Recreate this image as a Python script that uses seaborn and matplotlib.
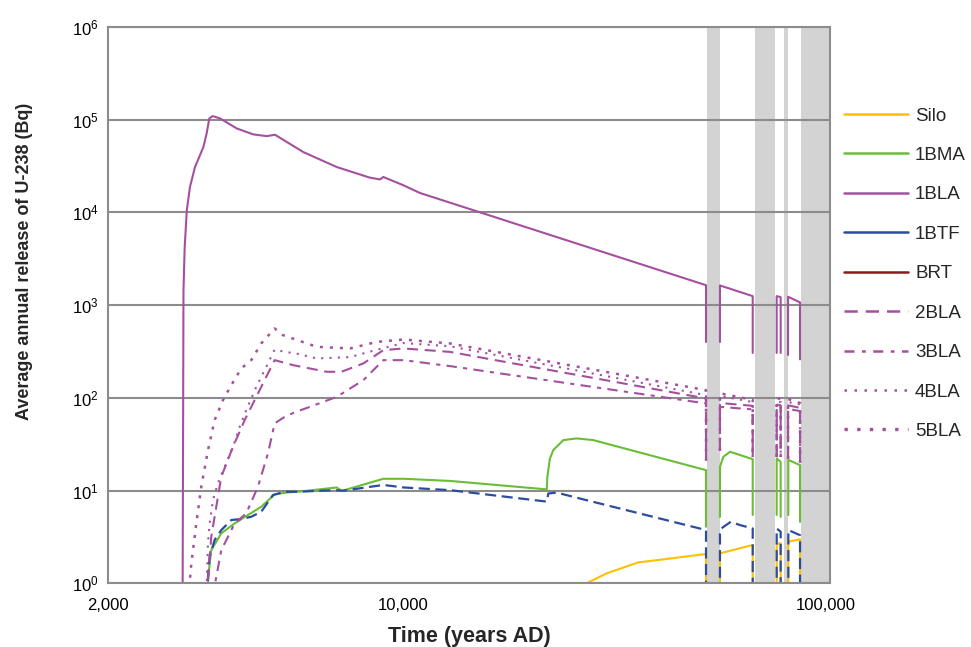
import numpy as np
import pandas as pd
import matplotlib
matplotlib.use('Agg')
import matplotlib.pyplot as plt
from matplotlib.lines import Line2D
from matplotlib.ticker import FixedLocator, FixedFormatter, LogLocator, NullFormatter
import seaborn as sns

nan = np.nan

# time (years AD) and annual release (Bq); nan splits a series into pieces
silo_years = [26000, 30270, 35950, 41200, 52000, 52000, nan,
              56100, 56100, 67070, 67070, nan,
              76420, 76420, 78100, 78100, nan,
              81430, 81430, 86800, 86800]
silo_release = [0.91, 1.28, 1.68, 1.81, 2.07, 0.5, nan,
                0.5, 2.1, 2.59, 0.5, nan,
                0.5, 2.65, 2.7, 0.5, nan,
                0.5, 2.81, 2.98, 0.5]

bma_years = [3420, 3477, 3508, 3705, 3986, 4285, 4606, 4955, 5328, 5627, 6950, 7141,
             8958, 10000, 12885, 21830, 21900, 22200, 22620, 23890, 25700, 28130,
             52000, 52000, nan,
             56100, 56100, 57130, 59270, 67070, 67070, nan,
             76420, 76420, 78100, 78100, nan,
             81430, 81430, 86800, 86800]
bma_release = [0.7, 1.64, 2.28, 3.46, 4.43, 5.45, 6.69, 9.1, 9.56, 9.71, 10.8, 9.9,
               13.4, 13.4, 12.7, 10.3, 14.0, 22.0, 27.3, 35.0, 36.5, 35.0,
               16.6, 4.07, nan,
               5.2, 18.0, 23.1, 26.2, 21.8, 5.45, nan,
               5.45, 22.2, 20.4, 5.2, nan,
               5.45, 21.4, 18.8, 4.6]

bla1_years = [3000, 3015, 3035, 3070, 3123, 3210, 3360, 3421, 3471, 3535, 3679, 4029,
              4410, 4745, 4965, 5790, 6950, 8330, 8800, 8960, 10000, 10940,
              52000, 52000, nan,
              56100, 56100, 67070, 67070, nan,
              76420, 76420, 78100, 78100, nan,
              81310, 81310, 86800, 86800]
bla1_release = [0.5, 1450, 4240, 10540, 18780, 30850, 50660, 71200, 103300, 109400, 103300, 80500,
                69400, 66500, 68800, 44800, 30850, 23700, 22700, 24100, 19600, 16200,
                1640, 400, nan,
                400, 1630, 1250, 305, nan,
                305, 1250, 1220, 305, nan,
                290, 1230, 1070, 260]

btf_years = [3414, 3477, 3573, 3705, 3912, 4131, 4363, 4606, 4910, 5233, 5627, 6850, 7200,
             8958, 10000, 12885, 21830, 22020, 23050, 26170, 52000, 52000, nan,
             56100, 56100, 56500, 59500, 62500, 67070, 67070, nan,
             76420, 76420, 78100, 78100, nan,
             81430, 81430, 86800, 86800]
btf_release = [0.7, 1.93, 2.93, 3.75, 4.81, 4.93, 5.22, 5.91, 8.94, 9.71, 9.71, 10.1, 9.96,
               11.5, 10.8, 10.1, 7.6, 9.3, 9.5, 8.2, 3.75, 0.5, nan,
               0.5, 3.45, 3.9, 4.6, 4.25, 3.9, 0.5, nan,
               0.5, 3.9, 3.6, 0.5, nan,
               0.5, 3.75, 3.3, 0.5]

brt_years = []
brt_release = []

bla2_years = [3420, 3508, 3705, 3948, 4208, 4524, 4955, 5486, 6579, 7130, 8034, 8958,
              10000, 12885, 52000, 52000, nan,
              56100, 56100, 67070, 67070, nan,
              76420, 76420, 78100, 78100, nan,
              81310, 81310, 86800, 86800]
bla2_release = [0.7, 3.18, 14.1, 29.6, 57.5, 111.5, 255, 225, 191, 191, 235, 327,
                341, 313, 98.5, 21, nan,
                27, 88, 82, 23, nan,
                23, 85, 83, 23, nan,
                22, 83, 78, 20]

bla3_years = [3530, 3705, 3986, 4245, 4524, 4778, 4955, 5233, 5566, 6008, 6950, 8034,
              8958, 10000, 12885, 52000, 52000, nan,
              56100, 56100, 67070, 67070, nan,
              76420, 76420, 78100, 78100, nan,
              81310, 81310, 86800, 86800]
bla3_release = [0.7, 2.28, 4.43, 5.68, 11.0, 25.2, 53.0, 62.4, 70.7, 80, 102.5, 155,
                255, 255, 220, 87, 21, nan,
                27, 80, 75, 23, nan,
                23, 78, 76, 23, nan,
                22, 76, 72, 20]

bla4_years = [3414, 3446, 3477, 3541, 3638, 3774, 3948, 4096, 4245, 4483, 4734, 4955,
              5233, 5566, 6233, 7471, 8642, 10000, 12885, 52000, 52000, nan,
              56100, 56100, 67070, 67070, nan,
              76420, 76420, 78100, 78100, nan,
              81310, 81310, 86800, 86800]
bla4_release = [0.7, 2.72, 4.43, 7.9, 12.05, 18.05, 29.6, 48.7, 73.7, 131.4, 215.8, 332,
                313, 301, 266, 275, 330, 390, 360, 107, 21, nan,
                27, 105, 90, 23, nan,
                23, 92, 90, 23, nan,
                22, 90, 85, 20]

bla5_years = [3095, 3147, 3233, 3322, 3446, 3573, 3739, 3912, 4131, 4363, 4606, 4955,
              5185, 6233, 7471, 8642, 10000, 12885, 52000, 52000, nan,
              56100, 56100, 67070, 67070, nan,
              76420, 76420, 78100, 78100, nan,
              81310, 81310, 86800, 86800]
bla5_release = [0.7, 1.64, 4.43, 11.0, 27.3, 57.5, 94.5, 137, 207.5, 255, 386, 560,
                474, 355, 341, 401, 426, 386, 121, 21, nan,
                27, 112, 95, 23, nan,
                23, 100, 97, 23, nan,
                22, 97, 88, 20]

# shaded periods (years AD)
shade_start = [52400, 67900, 79500, 87300]
shade_end = [56100, 75700, 81200, 102200]

x_major = [2000, 10000, 100000]
x_labels = ['2,000', '10,000', '100,000']

purple = '#a5509f'
grey = '#8c8c8c'

sns.set_theme(style='white')
plt.rcParams['font.family'] = ['Liberation Sans', 'DejaVu Sans']
plt.rcParams['mathtext.default'] = 'regular'


def pieces(years, release):
    df = pd.DataFrame({'year': years, 'release': release})
    df['piece'] = df['release'].isna().cumsum()
    return df.dropna()


fig = plt.figure(figsize=(9.71, 6.47), dpi=100)
ax = fig.add_axes([0.1114, 0.0985, 0.7434, 0.8598])
ax.set_xscale('log')
ax.set_yscale('log')

for s, e in zip(shade_start, shade_end):
    ax.axvspan(s, e, color='#d3d3d3', lw=0, zorder=0.2)

series = [
    ('Silo', silo_years, silo_release, '#ffc000', '-', 1.5),
    ('1BMA', bma_years, bma_release, '#6abd34', '-', 1.5),
    ('1BLA', bla1_years, bla1_release, purple, '-', 1.5),
    ('1BTF', btf_years, btf_release, '#2b4c9f', (0, (5, 2.5)), 1.6),
    ('2BLA', bla2_years, bla2_release, purple, (0, (5.3, 3.2)), 1.5),
    ('3BLA', bla3_years, bla3_release, purple, (0, (5, 3, 2, 3)), 1.5),
    ('4BLA', bla4_years, bla4_release, purple, (0, (1, 3)), 1.5),
    ('5BLA', bla5_years, bla5_release, purple, (0, (1.2, 2.8)), 1.8),
]
for name, years, release, color, ls, lw in series:
    sns.lineplot(data=pieces(years, release), x='year', y='release', units='piece',
                 estimator=None, sort=False, color=color, linestyle=ls, lw=lw,
                 ax=ax, legend=False)

ax.set_xlim(2000, 102200)
ax.set_ylim(1, 1e6)

ax.xaxis.set_major_locator(FixedLocator(x_major))
ax.xaxis.set_major_formatter(FixedFormatter(x_labels))
ax.xaxis.set_minor_locator(FixedLocator([m * d for d in (1000, 10000) for m in range(2, 10)]))
ax.xaxis.set_minor_formatter(NullFormatter())
ax.yaxis.set_major_locator(LogLocator(base=10, numticks=10))
ax.yaxis.set_minor_locator(LogLocator(base=10, subs=np.arange(2, 10), numticks=20))
ax.yaxis.set_minor_formatter(NullFormatter())

ax.tick_params(axis='x', which='major', direction='inout', length=9, width=1.2,
               labelsize=12, pad=6)
ax.tick_params(axis='x', which='minor', direction='inout', length=5, width=1.0)
ax.tick_params(axis='y', which='major', direction='out', length=5, width=1.2,
               labelsize=12, pad=2)
ax.tick_params(axis='y', which='minor', direction='in', length=4, width=1.0)
ax.tick_params(which='both', color=grey, labelcolor='black')

ax.grid(axis='y', which='major', color=grey, lw=1.5)
ax.grid(axis='x', which='both', visible=False)
ax.set_axisbelow(True)
for sp in ax.spines.values():
    sp.set_color(grey)
    sp.set_linewidth(1.5)

ax.set_xlabel('Time (years AD)', fontsize=15.5, fontweight='bold')
ax.set_ylabel('Average annual release of U-238 (Bq)', fontsize=13, fontweight='bold')
ax.xaxis.set_label_coords(0.5, -0.077)
ax.yaxis.set_label_coords(-0.104, 0.578)

handles = [
    Line2D([], [], color='#ffc000', lw=1.8),
    Line2D([], [], color='#6abd34', lw=1.8),
    Line2D([], [], color=purple, lw=1.8),
    Line2D([], [], color='#2b4c9f', lw=1.8),
    Line2D([], [], color='#8b1a1a', lw=1.8),
    Line2D([], [], color=purple, lw=1.8, linestyle=(0, (5.3, 3.2))),
    Line2D([], [], color=purple, lw=1.8, linestyle=(0, (4, 3, 1.5, 3))),
    Line2D([], [], color=purple, lw=1.8, linestyle=(0, (1, 3))),
    Line2D([], [], color=purple, lw=2.4, linestyle=(0, (1, 2.8))),
]
labels = ['Silo', '1BMA', '1BLA', '1BTF', 'BRT', '2BLA', '3BLA', '4BLA', '5BLA']
fig.legend(handles, labels, loc='upper left', bbox_to_anchor=(0.869, 0.834),
           frameon=False, fontsize=13.5, labelspacing=1.19, handlelength=3.45,
           handletextpad=0.35, borderpad=0, borderaxespad=0)

fig.savefig('out.png', dpi=100)
